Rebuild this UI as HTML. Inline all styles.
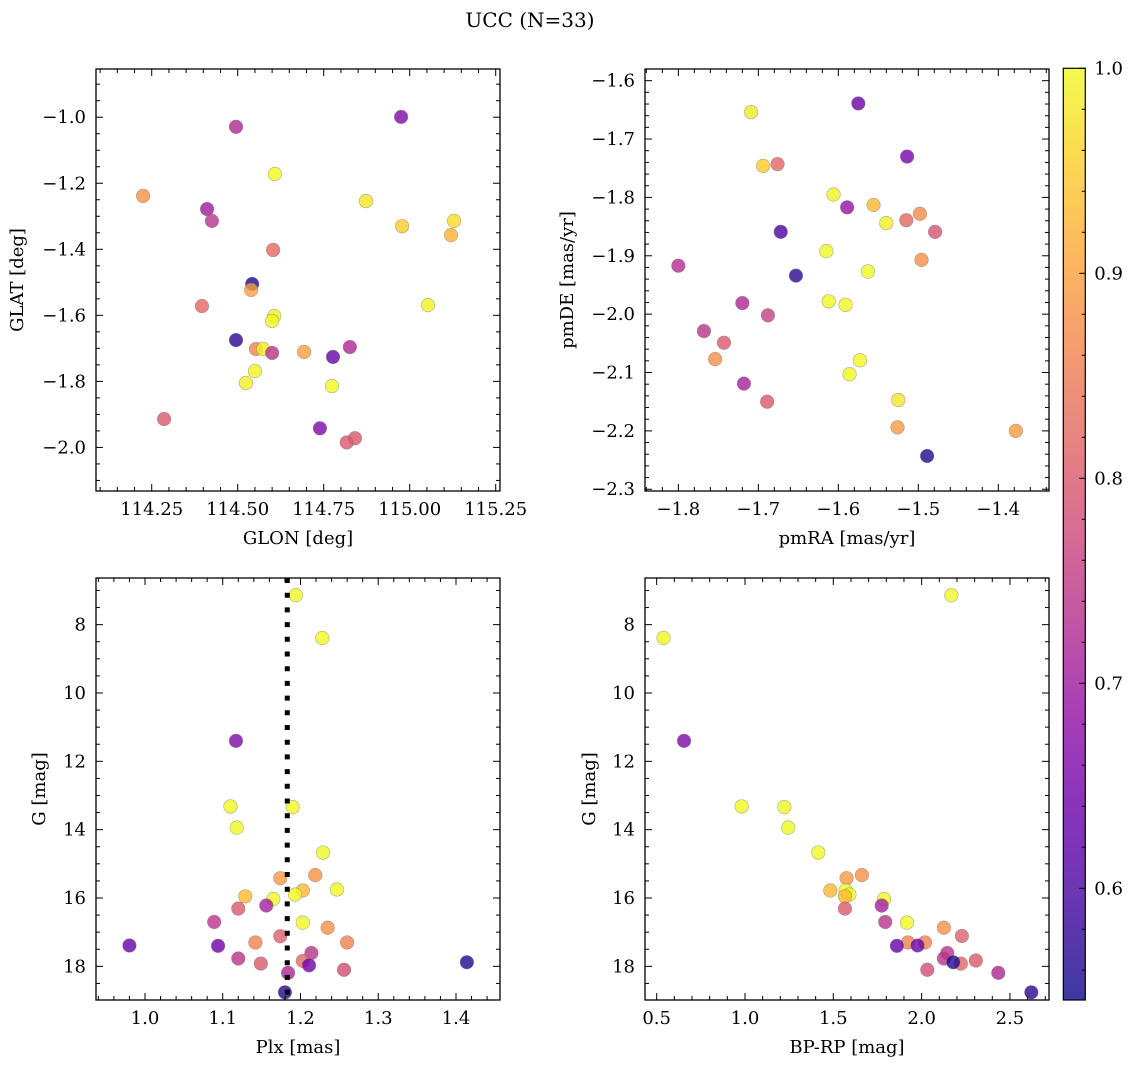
<!DOCTYPE html>
<html><head><meta charset="utf-8"><style>
html,body{margin:0;padding:0;background:#fff;}
svg{display:block;font-family:"DejaVu Serif","Liberation Serif",serif;}
</style></head><body>
<svg id="fig" width="1136" height="1068" viewBox="0 0 1136 1068" xmlns="http://www.w3.org/2000/svg">
<text x="530" y="27" font-size="20" text-anchor="middle">UCC (N=33)</text>
</svg>
<script>
// ---- data ----
const glon = [114.495,114.975,114.225,114.411,114.425,114.608,114.873,114.978,115.129,115.120,114.603,114.542,114.539,114.396,115.053,114.606,114.600,114.495,114.553,114.574,114.600,114.693,114.777,114.826,114.550,114.524,114.774,114.286,114.739,114.817,114.841];
const glat = [-1.029,-0.999,-1.238,-1.278,-1.314,-1.172,-1.254,-1.330,-1.314,-1.357,-1.402,-1.505,-1.523,-1.572,-1.569,-1.602,-1.617,-1.675,-1.702,-1.702,-1.714,-1.711,-1.726,-1.696,-1.769,-1.805,-1.814,-1.914,-1.942,-1.985,-1.972];
const probA = [0.72,0.66,0.88,0.70,0.74,1.0,0.98,0.95,0.97,0.92,0.82,0.56,0.90,0.82,0.99,0.99,1.0,0.57,0.86,0.99,0.74,0.90,0.63,0.72,0.99,0.99,1.0,0.80,0.66,0.80,0.80];

const pmra = [-1.709,-1.575,-1.514,-1.694,-1.676,-1.606,-1.589,-1.556,-1.540,-1.515,-1.498,-1.479,-1.672,-1.615,-1.800,-1.496,-1.653,-1.563,-1.612,-1.591,-1.720,-1.688,-1.768,-1.743,-1.754,-1.573,-1.586,-1.718,-1.689,-1.525,-1.526,-1.378,-1.489];
const pmde = [-1.654,-1.639,-1.730,-1.746,-1.743,-1.795,-1.817,-1.813,-1.844,-1.839,-1.828,-1.859,-1.859,-1.892,-1.917,-1.907,-1.934,-1.927,-1.978,-1.984,-1.981,-2.002,-2.029,-2.049,-2.077,-2.079,-2.103,-2.119,-2.150,-2.147,-2.194,-2.200,-2.243];
const probB = [0.98,0.64,0.65,0.95,0.82,0.99,0.69,0.93,0.99,0.82,0.87,0.79,0.60,1.0,0.73,0.88,0.57,1.0,1.0,1.0,0.72,0.76,0.74,0.80,0.88,1.0,1.0,0.71,0.80,0.98,0.89,0.89,0.56];

const plx = [1.194,1.228,1.117,1.110,1.190,1.118,1.229,1.174,1.219,1.129,1.203,1.193,1.247,1.165,1.156,1.120,1.089,1.203,1.235,1.174,1.142,1.260,0.980,1.094,1.214,1.120,1.203,1.149,1.211,1.256,1.414,1.184,1.180];
const gmagC = [7.14,8.39,11.40,13.32,13.34,13.94,14.67,15.42,15.33,15.95,15.78,15.90,15.75,16.03,16.22,16.31,16.70,16.72,16.87,17.12,17.30,17.30,17.39,17.40,17.61,17.77,17.84,17.92,17.97,18.10,17.88,18.19,18.76];
const probC = [1.0,1.0,0.66,1.0,1.0,1.0,1.0,0.89,0.88,0.93,0.93,1.0,1.0,1.0,0.71,0.80,0.74,1.0,0.88,0.81,0.86,0.86,0.63,0.64,0.74,0.74,0.82,0.80,0.64,0.78,0.56,0.72,0.57];
const plxRef = [1.183];

const bprp = [2.168,0.539,0.655,0.981,1.223,1.245,1.415,1.575,1.662,1.483,1.570,1.591,1.566,1.787,1.774,1.566,1.794,1.917,2.126,2.228,1.923,2.019,1.860,1.977,2.145,2.126,2.222,2.179,2.307,2.032,2.434,2.621];
const gmagD = [7.14,8.39,11.40,13.32,13.34,13.94,14.67,15.42,15.33,15.78,15.78,15.90,15.95,16.03,16.22,16.31,16.70,16.72,16.87,17.11,17.30,17.30,17.40,17.39,17.61,17.77,17.92,17.88,17.83,18.10,18.19,18.76];
const probD = [1.0,1.0,0.66,1.0,1.0,1.0,1.0,0.89,0.88,0.93,1.0,1.0,0.93,1.0,0.71,0.80,0.74,1.0,0.88,0.81,0.86,0.86,0.63,0.64,0.74,0.74,0.82,0.56,0.80,0.78,0.72,0.57];

const cbarTicks = [0.6,0.7,0.8,0.9,1.0];

// ---- helpers ----
const NS = "http://www.w3.org/2000/svg";
const svg = document.getElementById('fig');
function mk(tag, attrs, parent){const e=document.createElementNS(NS,tag);for(const k in attrs)e.setAttribute(k,attrs[k]);(parent||svg).appendChild(e);return e;}
const CMIN=0.5455, CMAX=1.0;
const plasma=[[13,8,135],[65,4,157],[106,0,168],[143,13,164],[177,42,144],[204,71,120],[225,100,98],[242,132,75],[252,166,54],[252,206,37],[240,249,33]];
function cmap(v){let t=(v-CMIN)/(CMAX-CMIN);t=Math.max(0,Math.min(1,t));const f=t*10,i=Math.min(9,Math.floor(f)),r=f-i;const a=plasma[i],b=plasma[i+1];
 return 'rgb('+[0,1,2].map(k=>Math.round(a[k]+(b[k]-a[k])*r)).join(',')+')';}
function fmt(v,d){const s=Math.abs(v).toFixed(d);return (v<-1e-9?'\u2212':'')+s;}
const FS=18;

function panel(o){
 const g=mk('g',{});
 
 
 const X=v=>o.x0+(v-o.xmin)/(o.xmax-o.xmin)*(o.x1-o.x0);
 const Y=o.invert? v=>o.y0+(v-o.ymin)/(o.ymax-o.ymin)*(o.y1-o.y0) : v=>o.y1-(v-o.ymin)/(o.ymax-o.ymin)*(o.y1-o.y0);
 const pg=mk('g',{},g);
 
 
 for(let i=0;i<o.xs.length;i++){
  const c=mk('circle',{cx:X(o.xs[i]),cy:Y(o.ys[i]),r:6.8,fill:cmap(o.cs[i]),'fill-opacity':0.8,stroke:'#777','stroke-opacity':0.6,'stroke-width':0.6},pg);
  
  
 }
 if(o.vline){
  const l=mk('line',{x1:X(o.vline[0]),x2:X(o.vline[0]),y1:o.y0,y2:o.y1,stroke:'#000','stroke-width':5,'stroke-dasharray':'5 9.7'},g);
  
  
 }
 const fr=mk('rect',{x:o.x0,y:o.y0,width:o.x1-o.x0,height:o.y1-o.y0,fill:'none',stroke:'#000','stroke-width':1.3},g);
 
 
 const eps=1e-9;
 let s=Math.ceil((o.xmin-eps)/o.xminor)*o.xminor;
 for(let v=s; v<=o.xmax+eps; v+=o.xminor){
  const isMaj=Math.abs(v/o.xmajor-Math.round(v/o.xmajor))<1e-6;
  const L=isMaj?7:4, px=X(v);
  mk('line',{x1:px,x2:px,y1:o.y1,y2:o.y1-L,stroke:'#000','stroke-width':1},g);
  mk('line',{x1:px,x2:px,y1:o.y0,y2:o.y0+L,stroke:'#000','stroke-width':1},g);
  if(isMaj){const t=mk('text',{x:px,y:o.y1+24,'font-size':FS,'text-anchor':'middle'},g);t.textContent=fmt(v,o.xdec);
   
   }
 }
 s=Math.ceil((o.ymin-eps)/o.yminor)*o.yminor;
 for(let v=s; v<=o.ymax+eps; v+=o.yminor){
  const isMaj=Math.abs(v/o.ymajor-Math.round(v/o.ymajor))<1e-6;
  const L=isMaj?7:4, py=Y(v);
  mk('line',{x1:o.x0,x2:o.x0+L,y1:py,y2:py,stroke:'#000','stroke-width':1},g);
  mk('line',{x1:o.x1,x2:o.x1-L,y1:py,y2:py,stroke:'#000','stroke-width':1},g);
  if(isMaj){const t=mk('text',{x:o.x0-10,y:py+6,'font-size':FS,'text-anchor':'end'},g);t.textContent=fmt(v,o.ydec);
   
   }
 }
 const xl=mk('text',{x:(o.x0+o.x1)/2,y:o.y1+53,'font-size':FS,'text-anchor':'middle'},g);xl.textContent=o.xlabel;
 
 
 const yx=o.ylx, yy=(o.y0+o.y1)/2;
 const yl=mk('text',{x:yx,y:yy,'font-size':FS,'text-anchor':'middle',transform:'rotate(-90 '+yx+' '+yy+')'},g);yl.textContent=o.ylabel;
 
 
}

panel({name:'glon-glat-panel',x0:96,x1:500,y0:69,y1:491,xmin:114.088,xmax:115.2625,ymin:-2.132,ymax:-0.854,xmajor:0.25,xminor:0.05,ymajor:0.2,yminor:0.05,xdec:2,ydec:1,xs:glon,ys:glat,cs:probA,xlabel:'GLON [deg]',ylabel:'GLAT [deg]',ylx:23});
panel({name:'proper-motion-panel',x0:645,x1:1049,y0:69,y1:491,xmin:-1.8417,xmax:-1.3366,ymin:-2.303,ymax:-1.58,xmajor:0.1,xminor:0.02,ymajor:0.1,yminor:0.02,xdec:1,ydec:1,xs:pmra,ys:pmde,cs:probB,xlabel:'pmRA [mas/yr]',ylabel:'pmDE [mas/yr]',ylx:573});
panel({name:'plx-g-panel',x0:96,x1:500,y0:578,y1:1000,xmin:0.937,xmax:1.4566,ymin:6.635,ymax:18.985,invert:true,xmajor:0.1,xminor:0.02,ymajor:2,yminor:0.5,xdec:1,ydec:0,xs:plx,ys:gmagC,cs:probC,vline:plxRef,xlabel:'Plx [mas]',ylabel:'G [mag]',ylx:45});
panel({name:'cmd-panel',x0:645,x1:1049,y0:578,y1:1000,xmin:0.434,xmax:2.721,ymin:6.635,ymax:18.985,invert:true,xmajor:0.5,xminor:0.1,ymajor:2,yminor:0.5,xdec:1,ydec:0,xs:bprp,ys:gmagD,cs:probD,xlabel:'BP-RP [mag]',ylabel:'G [mag]',ylx:595});

(function(){
 const x0=1063.3,x1=1085.3,y0=68.3,y1=1000;
 const g=mk('g',{});
 
 
 const defs=mk('defs',{},g);
 const lg=mk('linearGradient',{id:'cb',x1:0,y1:1,x2:0,y2:0},defs);
 for(let i=0;i<=20;i++){const v=CMIN+(CMAX-CMIN)*i/20;mk('stop',{offset:(i/20),'stop-color':cmap(v)},lg);}
 mk('rect',{x:x0,y:y0,width:x1-x0,height:y1-y0,fill:'url(#cb)','fill-opacity':0.8},g);
 const fr=mk('rect',{x:x0,y:y0,width:x1-x0,height:y1-y0,fill:'none',stroke:'#000','stroke-width':1.2},g);
 
 
 const Y=v=>y1-(v-CMIN)/(CMAX-CMIN)*(y1-y0);
 for(let k=Math.ceil(CMIN/0.02);k*0.02<=CMAX+1e-9;k++){const v=k*0.02;const py=Y(v);
  const maj=Math.abs(v*10-Math.round(v*10))<1e-6;mk('line',{x1:x1,x2:x1-(maj?6:3.5),y1:py,y2:py,stroke:'#000','stroke-width':1},g);}
 cbarTicks.forEach(v=>{const t=mk('text',{x:x1+9,y:Y(v)+6,'font-size':FS},g);t.textContent=v.toFixed(1);
  
  });
})();
</script>
</body></html>
